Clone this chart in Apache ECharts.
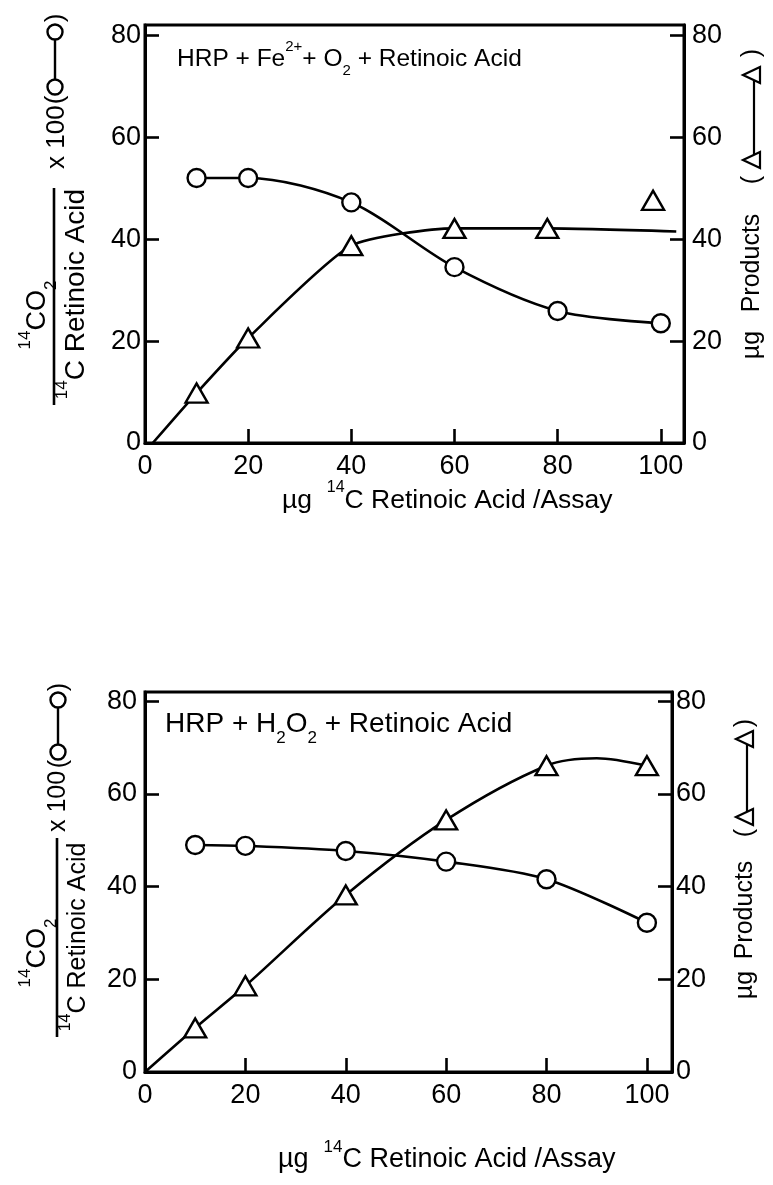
<!DOCTYPE html>
<html>
<head>
<meta charset="utf-8">
<script src="https://cdn.jsdelivr.net/npm/echarts@6/dist/echarts.min.js"></script>
<style>
  html, body { margin: 0; padding: 0; background: #fff; }
  #chart { width: 773px; height: 1185px; }
</style>
</head>
<body>
<div id="chart"></div>
<script>
// ---- Panel A: HRP + Fe2+ + O2 + retinoic acid ----
const doseA = [10, 20, 40, 60, 80, 100];                 // µg 14C retinoic acid / assay
const co2RatioA = [52.0, 52.0, 47.2, 34.5, 25.9, 23.5];  // 14CO2 / 14C retinoic acid x 100
const productDoseA = [10, 20, 40, 60, 78, 98.5];
const productsA = [9.8, 20.6, 38.7, 42.1, 42.1, 47.6];   // µg products
// drawn trend curve for the products
const productCurveDoseA = [1.5, 10, 20, 40, 60, 78, 103];
const productCurveA = [0, 9.8, 20.6, 38.7, 42.1, 42.1, 41.5];

// ---- Panel B: HRP + H2O2 + retinoic acid ----
const doseB = [10, 20, 40, 60, 80, 100];
const co2RatioB = [49.0, 48.8, 47.7, 45.4, 41.6, 32.2];
const productsB = [9.5, 18.6, 38.2, 54.4, 66.1, 66.1];
// drawn trend curve for the products (rises to a shallow maximum near 90)
const productCurveDoseB = [0, 10, 20, 40, 60, 80, 90, 100];
const productCurveB = [0, 9.5, 18.6, 38.2, 54.4, 66.1, 67.7, 66.1];

// ---- tick labels ----
const xLabelValues = [0, 20, 40, 60, 80, 100];
const xTickValues = [20, 40, 60, 80, 100];
const yLabelValues = [0, 20, 40, 60, 80];
const yTickValues = [20, 40, 60, 80];

const FONT = '"Liberation Sans", Arial, sans-serif';
const INK = '#000';

const zip = (xs, ys) => xs.map((x, i) => [x, ys[i]]);

// rich-text styles: m = main, s = superscript, b = subscript
function rich(size) {
  const small = Math.round(size * 0.62);
  return {
    m: { fontSize: size, fontFamily: FONT, fill: INK, lineHeight: size * 1.6 },
    s: { fontSize: small, fontFamily: FONT, fill: INK, lineHeight: small, verticalAlign: 'top' },
    b: { fontSize: small, fontFamily: FONT, fill: INK, lineHeight: size * 1.0, verticalAlign: 'bottom' }
  };
}

function richText(x, y, text, size, align) {
  return {
    type: 'text', x: x, y: y,
    style: { text: text, rich: rich(size), align: align || 'left', verticalAlign: 'middle' }
  };
}

function plainText(x, y, text, size, align) {
  return {
    type: 'text', x: x, y: y,
    style: { text: text, fontSize: size, fontFamily: FONT, fill: INK, align: align || 'center', verticalAlign: 'middle' }
  };
}

// left axis title: fraction 14CO2 / 14C Retinoic Acid x 100 (o—o), reading bottom to top
function leftTitle(x0, y0, L) {
  return {
    type: 'group', x: x0, y: y0, rotation: Math.PI / 2,
    children: [
      { type: 'line', shape: { x1: 0, y1: 0, x2: L.bar, y2: 0 }, style: { stroke: INK, lineWidth: 2.6 } },
      richText(L.num[0], L.num[1], '{s|14}{m|CO}{b|2}', L.numSize, 'center'),
      richText(L.den[0], L.den[1], '{s|14}{m|C Retinoic Acid}', L.denSize, 'center'),
      plainText(L.mul[0], L.mul[1], 'x 100', L.mulSize, 'left'),
      plainText(L.open, 2, '(', L.mulSize, 'center'),
      { type: 'line', shape: { x1: L.c1, y1: 1, x2: L.c2, y2: 1 }, style: { stroke: INK, lineWidth: 2.4 } },
      { type: 'circle', shape: { cx: L.c1, cy: 1, r: 7.5 }, style: { fill: '#fff', stroke: INK, lineWidth: 2.4 } },
      { type: 'circle', shape: { cx: L.c2, cy: 1, r: 7.5 }, style: { fill: '#fff', stroke: INK, lineWidth: 2.4 } },
      plainText(L.close, 2, ')', L.mulSize, 'center')
    ]
  };
}

// right axis title: µg Products (△—△), reading bottom to top
function triangle(u, v) {
  return { type: 'polygon', shape: { points: [[u, v - 9], [u - 8, v + 8], [u + 8, v + 8]] },
           style: { fill: '#fff', stroke: INK, lineWidth: 2.2 } };
}
function rightTitle(x0, y0, R) {
  return {
    type: 'group', x: x0, y: y0, rotation: Math.PI / 2,
    children: [
      plainText(R.mu, 0, 'µg', R.size, 'center'),
      plainText(R.prod, 0, 'Products', R.size, 'center'),
      plainText(R.open, 0, '(', R.size, 'center'),
      { type: 'line', shape: { x1: R.t1, y1: 2, x2: R.t2, y2: 2 }, style: { stroke: INK, lineWidth: 2.2 } },
      triangle(R.t1, 0),
      triangle(R.t2, 0),
      plainText(R.close, 0, ')', R.size, 'center')
    ]
  };
}

function xAxisFor(gi, max) {
  return {
    type: 'value', gridIndex: gi, min: 0, max: max,
    axisLine: { show: true, onZero: false, lineStyle: { color: INK, width: 3 } },
    axisTick: { show: true, inside: true, length: 14, customValues: xTickValues, lineStyle: { color: INK, width: 2.6 } },
    axisLabel: { customValues: xLabelValues, color: INK, fontSize: 27, fontFamily: FONT, margin: 10 },
    splitLine: { show: false }
  };
}
function yAxisFor(gi, pos, margin) {
  return {
    type: 'value', gridIndex: gi, position: pos, min: 0, max: 82,
    axisLine: { show: true, onZero: false, lineStyle: { color: INK, width: 3 } },
    axisTick: { show: true, inside: true, length: 14, customValues: yTickValues, lineStyle: { color: INK, width: 2.6 } },
    axisLabel: { customValues: yLabelValues, color: INK, fontSize: 27, fontFamily: FONT, margin: margin },
    splitLine: { show: false }
  };
}

const lineStyle = { color: INK, width: 2.6 };
function curve(xi, yi, data, smooth) {
  return { type: 'line', xAxisIndex: xi, yAxisIndex: yi, data: data, smooth: smooth,
           symbol: 'none', lineStyle: lineStyle, z: 2, silent: true };
}
function markers(xi, yi, data, symbol, size) {
  return { type: 'scatter', xAxisIndex: xi, yAxisIndex: yi, data: data, symbol: symbol, symbolSize: size,
           itemStyle: { color: '#fff', borderColor: INK, borderWidth: 2.4, opacity: 1 }, z: 4, silent: true };
}

const option = {
  animation: false,
  backgroundColor: '#fff',
  grid: [
    { left: 145, top: 25, width: 539, height: 418, show: true, borderColor: INK, borderWidth: 3, backgroundColor: 'transparent' },
    { left: 145, top: 692, width: 527, height: 380, show: true, borderColor: INK, borderWidth: 3, backgroundColor: 'transparent' }
  ],
  xAxis: [xAxisFor(0, 104.5), xAxisFor(1, 105)],
  yAxis: [yAxisFor(0, 'left', 4), yAxisFor(0, 'right', 8), yAxisFor(1, 'left', 8), yAxisFor(1, 'right', 4)],
  series: [
    curve(0, 0, zip(doseA, co2RatioA), 0.3),
    markers(0, 0, zip(doseA, co2RatioA), 'circle', 18),
    curve(0, 1, zip(productCurveDoseA, productCurveA), 0.2),
    markers(0, 1, zip(productDoseA, productsA), 'triangle', [22, 19]),

    curve(1, 2, zip(doseB, co2RatioB), 0.3),
    markers(1, 2, zip(doseB, co2RatioB), 'circle', 18),
    curve(1, 3, zip(productCurveDoseB, productCurveB), 0.3),
    markers(1, 3, zip(doseB, productsB), 'triangle', [22, 19])
  ],
  graphic: {
    elements: [
      // panel labels
      richText(177, 59, '{m|HRP + Fe}{s|2+}{m|+ O}{b|2}{m| + Retinoic Acid}', 24.5, 'left'),
      richText(165, 724, '{m|HRP + H}{b|2}{m|O}{b|2}{m| + Retinoic Acid}', 28, 'left'),
      // x axis titles
      richText(282, 501, '{m|µg  }{s|14}{m|C Retinoic Acid /Assay}', 26.5, 'left'),
      richText(278, 1160, '{m|µg  }{s|14}{m|C Retinoic Acid /Assay}', 27, 'left'),
      // left axis titles
      leftTitle(54, 405, { bar: 217, num: [90, -16], numSize: 27, den: [111, 22], denSize: 28,
                           mul: [236, 3], mulSize: 26, open: 305, c1: 318, c2: 373, close: 387 }),
      leftTitle(57, 1037, { bar: 199, num: [84, -19], numSize: 27, den: [100, 21], denSize: 25,
                            mul: [205, 1], mulSize: 25, open: 273, c1: 285, c2: 337, close: 350 }),
      // right axis titles
      rightTitle(752, 370, { size: 25, mu: 25, prod: 107, open: 190, t1: 210, t2: 295, close: 317 }),
      rightTitle(745, 1008, { size: 25, mu: 23, prod: 98, open: 175, t1: 191, t2: 269, close: 285 })
    ]
  }
};

const chart = echarts.init(document.getElementById('chart'), null, { renderer: 'canvas' });
chart.setOption(option);
</script>
</body>
</html>
